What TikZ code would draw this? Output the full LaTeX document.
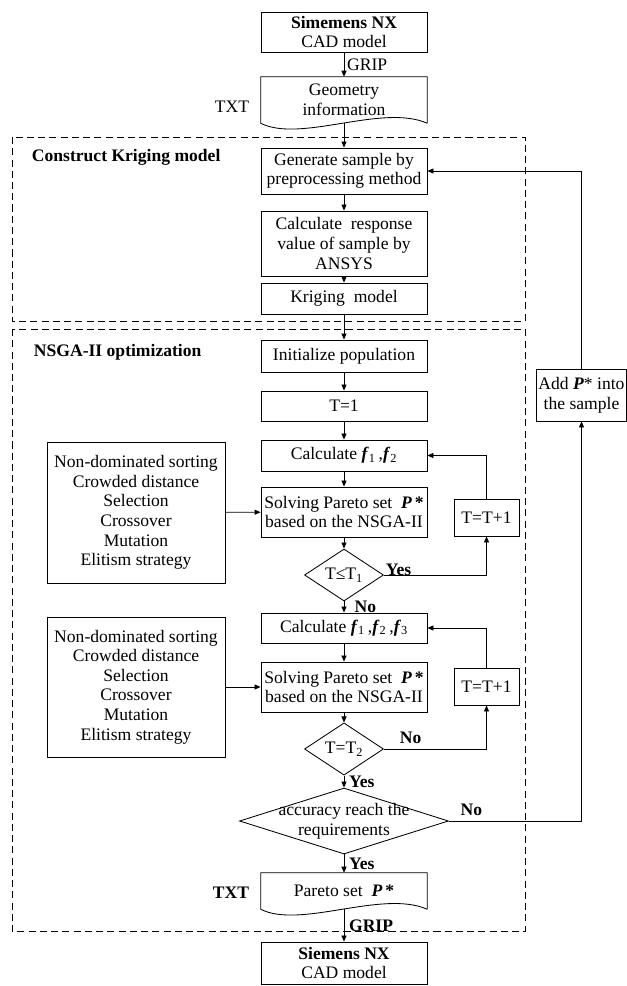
\documentclass[tikz,border=0pt]{standalone}
\usepackage{fontspec}
\setmainfont{Liberation Serif}
\usetikzlibrary{shapes.geometric,arrows.meta}

\newcommand{\fvar}[1]{\textbf{\textit{f}}\textsubscript{#1}}
\newcommand{\pstar}{\textbf{\textit{P}}\,\textbf{*}}

\begin{document}
\begin{tikzpicture}[x=0.25mm, y=-0.25mm,
  every node/.style={font=\fontsize{12.5}{13.9}\selectfont},
  box/.style={draw, line width=0.6pt, align=center, inner sep=1pt, minimum width=41.5mm},
  sidebox/.style={draw, line width=0.6pt, align=center, inner sep=1pt},
  docbox/.style={align=center, inner sep=1pt, minimum width=41.5mm},
  dec/.style={draw, diamond, line width=0.6pt, inner sep=0pt, align=center},
  group/.style={dash pattern=on 5pt off 3pt, line width=0.6pt},
  flow/.style={-{Triangle[length=4.3pt,width=3.6pt]}, line width=0.6pt},
  lab/.style={font=\fontsize{12.5}{13.9}\selectfont\bfseries}]
\useasboundingbox (0,0) rectangle (627,986);

% Groups
\draw[group] (12,137) rectangle (525,321);
\draw[group] (12,329) rectangle (525,931);
\node[lab, anchor=west] (kriging-title) at (27,157) {Construct Kriging model};
\node[lab, anchor=west] (nsga-title)    at (29,352) {NSGA-II optimization};

% Main column
\node[box, minimum height=10mm]    (cad-top) at (344,32)    {\textbf{Simemens NX}\\CAD model};
\node[docbox, minimum height=11.5mm] (geo)   at (344,100)   {Geometry\\information};
\node[box, minimum height=11.5mm]  (gen)     at (344,171)   {Generate sample by\\preprocessing method};
\node[box, minimum height=16.25mm] (resp)    at (344,243.5) {Calculate\ \ response\\value of sample by\\ANSYS};
\node[box, minimum height=7.75mm]  (krig)    at (344,298.5) {Kriging\ \ model};
\node[box, minimum height=8mm]     (init)    at (344,356)   {Initialize population};
\node[box, minimum height=7.5mm]   (t1)      at (344,406)   {T=1};
\node[box, minimum height=7.75mm]  (calc12)  at (344,455.5) {Calculate \fvar{1}\,,\fvar{2}};
\node[box, minimum height=12.5mm]  (solve1)  at (344,512)   {Solving Pareto set\ \ \pstar\\based on the NSGA-II};
\node[dec, minimum width=19.75mm, minimum height=10.25mm] (dia1) at (344,575) {T≤T\textsubscript{1}};
\node[box, minimum height=7.5mm]   (calc123) at (344,628)   {Calculate \fvar{1}\,,\fvar{2}\,,\fvar{3}};
\node[box, minimum height=12.5mm]  (solve2)  at (344,687)   {Solving Pareto set\ \ \pstar\\based on the NSGA-II};
\node[dec, minimum width=19.75mm, minimum height=10mm] (dia2) at (344,749) {T=T\textsubscript{2}};
\node[dec, minimum width=52.25mm, minimum height=16.5mm,
      label={[align=center]center:accuracy reach the\\requirements}] (acc) at (344,821) {};
\node[docbox, minimum height=9mm]  (pareto)  at (344,891)   {Pareto set\ \ \pstar};
\node[box, minimum height=10.5mm]  (cad-bot) at (344,963)   {\textbf{Siemens NX}\\CAD model};

% Document outlines
\draw[line width=0.6pt] (geo.south east) -- (geo.north east) -- (geo.north west) -- (geo.south west)
  .. controls +(40,20) and +(-45,-20) .. (geo.south east);
\draw[line width=0.6pt] (pareto.south east) -- (pareto.north east) -- (pareto.north west) -- (pareto.south west)
  .. controls +(40,20) and +(-45,-20) .. (pareto.south east);
\node (txt-top)     at (232,107) {TXT};
\node[lab] (txt-bot) at (231,893) {TXT};

% Side boxes
\node[sidebox, minimum width=44.5mm, minimum height=35.25mm] (ops1) at (136,512.5)
  {Non-dominated sorting\\Crowded distance\\Selection\\Crossover\\Mutation\\Elitism strategy};
\node[sidebox, minimum width=44.5mm, minimum height=35mm] (ops2) at (136,687)
  {Non-dominated sorting\\Crowded distance\\Selection\\Crossover\\Mutation\\Elitism strategy};
\node[sidebox, minimum width=16.25mm, minimum height=9.25mm] (inc1) at (486.5,517.5) {T=T+1};
\node[sidebox, minimum width=16.25mm, minimum height=9.25mm] (inc2) at (486.5,686.5) {T=T+1};
\node[sidebox, minimum width=22.5mm, minimum height=13mm] (addp) at (581.5,395) {Add \textbf{\textit{P}}* into\\the sample};

% Arrows
\draw[flow] (cad-top) -- node[right, inner sep=2pt] {GRIP} (geo);
\draw[flow] (geo.south) -- (gen);
\draw[flow] (gen) -- (resp);
\draw[flow] (resp) -- (krig);
\draw[flow] (krig) -- (init);
\draw[flow] (init) -- (t1);
\draw[flow] (t1) -- (calc12);
\draw[flow] (calc12) -- (solve1);
\draw[flow] (solve1) -- (dia1);
\draw[flow] (dia1) -- node[lab, right=4pt] {No} (calc123);
\draw[flow] (calc123) -- (solve2);
\draw[flow] (solve2) -- (dia2);
\draw[flow] (dia2) -- node[lab, right] {Yes} (acc);
\draw[flow] (acc) -- node[lab, right] {Yes} (pareto);
\draw[flow] (pareto.south) -- node[lab, right] {GRIP} (cad-bot);
\draw[flow] (ops1) -- (solve1);
\draw[flow] (ops2) -- (solve2);

% Loops
\draw[flow] (dia1.east) -| node[lab, pos=0, anchor=base west, inner sep=1pt] {Yes} (inc1.south);
\draw[flow] (inc1.north) |- (calc12.east);
\draw[flow] (dia2.east) -| node[lab, pos=0.13, above] {No} (inc2.south);
\draw[flow] (inc2.north) |- (calc123.east);
\draw[flow] (acc.east) -| node[lab, pos=0.085, above] {No} (addp.south);
\draw[flow] (addp.north) |- (gen.east);
\end{tikzpicture}
\end{document}
